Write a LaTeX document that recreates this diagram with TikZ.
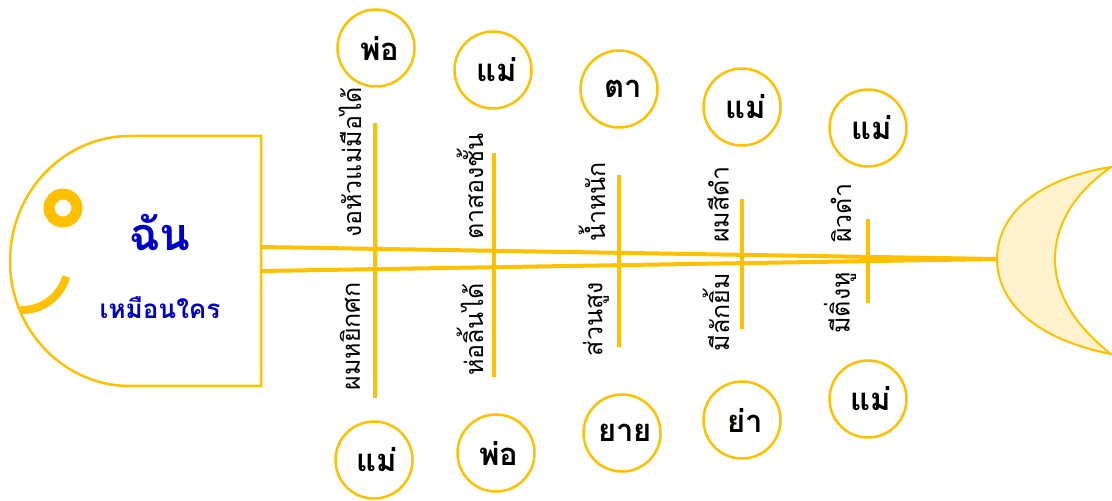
\documentclass[tikz,border=0pt]{standalone}
\usepackage{tikz}
\usetikzlibrary{positioning}
\usepackage{fontspec}
\newfontfamily\thaifont[Script=Thai]{Loma}
\definecolor{fishGold}{HTML}{FFC000}
\definecolor{tailFill}{HTML}{FFF2CC}
\definecolor{headBlue}{HTML}{0000CC}
\tikzset{
  relCircle/.style={circle, draw=fishGold, line width=2.5pt, minimum size=77pt, inner sep=0pt,
    text=black, font=\thaifont\bfseries\fontsize{31}{36}\selectfont},
  traitUp/.style={rotate=90, anchor=west, inner sep=0pt, font=\thaifont\fontsize{25}{30}\selectfont},
  traitDown/.style={rotate=90, anchor=east, inner sep=0pt, font=\thaifont\fontsize{25}{30}\selectfont},
  boneLine/.style={draw=fishGold, line width=4pt},
  spineLine/.style={draw=fishGold, line width=4pt}
}

\begin{document}
\begin{tikzpicture}[x=1pt, y=1pt]
      \useasboundingbox (0,0) rectangle (1112,501);

      % bones
      \foreach \i/\x/\ya/\yb in {1/375/378/103, 2/494/348/124, 3/619/326/154, 4/742/302/172, 5/868/282/198} {
        \coordinate (bone\i a) at (\x,\ya);
        \coordinate (bone\i b) at (\x,\yb);
        \draw[boneLine] (bone\i a) -- (bone\i b);
      }

      % spine
      \coordinate (spineTop) at (261,254);
      \coordinate (spineBot) at (261,230);
      \coordinate (tailTip) at (997,242);
      \draw[spineLine] (spineTop) -- (tailTip);
      \draw[spineLine] (spineBot) -- (tailTip);

      % head
      \draw[fishGold, line width=2.5pt] (261,365) -- (130,365)
        arc[start angle=90, end angle=270, x radius=120pt, y radius=125pt] -- (261,115) -- cycle;
      \draw[fishGold, line width=11pt] (63,293) circle[radius=14pt];
      \draw[fishGold, line width=8pt] (22,237) ++(-16:46pt) arc[start angle=-16, end angle=-92, radius=46pt];
      \node[text=headBlue, font=\thaifont\bfseries\fontsize{45}{50}\selectfont] (me) at (160,269) {ฉัน};
      \node[text=headBlue, font=\thaifont\bfseries\fontsize{26}{30}\selectfont] (likeWho) at (160,193) {เหมือนใคร};

      % tail
      \draw[fishGold, fill=tailFill, line width=2pt] (1111,334)
        .. controls (1035,322) and (997,285) .. (tailTip)
        .. controls (997,199) and (1035,162) .. (1111,147)
        .. controls (1074,176) and (1055,208) .. (1055,242)
        .. controls (1055,276) and (1074,308) .. cycle;

      % traits
      \node[traitUp] (upTrait1) at (350,263) {งอหัวแม่มือได้};
      \node[traitUp] (upTrait2) at (470,261) {ตาสองชั้น};
      \node[traitUp] (upTrait3) at (592,259) {น้ำหนัก};
      \node[traitUp] (upTrait4) at (718,258) {ผมสีดำ};
      \node[traitUp] (upTrait5) at (841,258) {ผิวดำ};
      \node[traitDown] (downTrait1) at (350,219) {ผมหยิกศก};
      \node[traitDown] (downTrait2) at (470,218) {ห่อลิ้นได้};
      \node[traitDown] (downTrait3) at (596,219) {ส่วนสูง};
      \node[traitDown] (downTrait4) at (716,228) {มีลักยิ้ม};
      \node[traitDown] (downTrait5) at (840,229) {มีติ่งหู};

      % relatives
      \foreach \i/\x/\y/\who in {1/376/453/พ่อ, 2/493/431/แม่, 3/619/412/ตา, 4/742/394/แม่, 5/868/373/แม่} {
        \node[relCircle] (topRel\i) at (\x,\y) {\hspace{8pt}\who};
      }
      \foreach \i/\x/\y/\who in {1/374/41/แม่, 2/496/48/พ่อ, 3/622/68/ยาย, 4/742/81/ย่า, 5/868/102/แม่} {
        \node[relCircle] (botRel\i) at (\x,\y) {\hspace{6pt}\who};
      }
    \end{tikzpicture}
\end{document}
